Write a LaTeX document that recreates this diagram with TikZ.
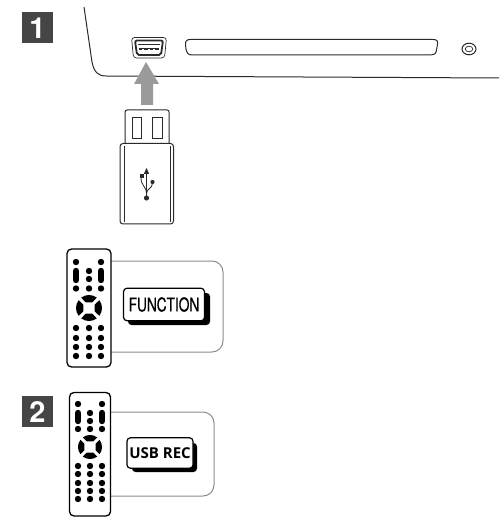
\documentclass[tikz,border=0pt]{standalone}
\usepackage{fontspec}
\setmainfont{Liberation Sans}
\newfontfamily\narrowfont[FakeStretch=0.72,FakeBold=0.5]{TeX Gyre Heros}
\newfontfamily\recfont{Open Sans}
\newfontfamily\badgefont{TeX Gyre Heros}
\definecolor{badge}{HTML}{454545}
\definecolor{ink}{HTML}{2A2A2A}
\definecolor{arrowgray}{HTML}{9A9A9A}
\definecolor{panelgray}{HTML}{8C8C8C}
\usetikzlibrary{calc}
\tikzset{
  line/.style={draw=ink,line width=1pt},
  thin line/.style={draw=ink,line width=0.7pt},
  badgebox/.style={fill=badge,draw=none,minimum width=31pt,minimum height=31pt,inner sep=0,text=white,font=\badgefont\bfseries\fontsize{29}{29}\selectfont},
  panel/.style={draw=panelgray,line width=1pt,rounded corners=11pt},
  remote/.style={draw=black,fill=white,line width=1.3pt,rounded corners=4.5pt},
  btn/.style={fill=black,draw=none},
  key/.style={draw=black,fill=white,line width=1.2pt,rounded corners=3.5pt},
  keyshadow/.style={fill=black,draw=none,rounded corners=3.5pt},
}
\newcommand{\dotbtn}[2]{\fill[btn] (#1,#2) circle (3.2);}
\newcommand{\pillbtn}[3]{\draw[black,line width=6.4pt,line cap=round] (#1,#2) -- (#1,#3);}
\newcommand{\dpad}[3]{%
  \foreach \a in {0,90,180,270}{%
    \fill[btn] ($(#1,#2)+(\a+37:#3)$) arc[start angle=\a+37,end angle=\a-37,radius=#3] -- ($(#1,#2)+(\a-30:6.5)$) -- ($(#1,#2)+(\a+30:6.5)$) -- cycle;}}
\begin{document}
\begin{tikzpicture}[x=1pt,y=-1pt]
\useasboundingbox (0,0) rectangle (499,518);
% badges
\node[badgebox] (badgeone) at (37.5,28) {1};
\node[badgebox] (badgetwo) at (37.5,411.5) {2};
% device
\draw[line] (84,7) -- (92,62) .. controls (94,72) and (98,76) .. (106,76) -- (499,78);
\draw[line] (190,39.5) -- (433,39.5) .. controls (437,39.5) and (438,41) .. (437.5,44) -- (436.5,50) .. controls (436,54) and (434,55) .. (431,55) -- (192,55) .. controls (188,55) and (187,53) .. (186,49) -- (185.5,45) .. controls (185,41) and (187,39.5) .. (190,39.5) -- cycle;
\draw[line] (469,49) ellipse (7 and 5.8);
\draw[thin line] (469,49) ellipse (3.8 and 2.8);
% usb port
\draw[draw=ink,line width=0.7pt,rounded corners=3pt] (131.5,37.5) -- (166.5,37.5) -- (164.5,58) -- (133.5,58) -- cycle;
\draw[draw=ink,line width=1.8pt,rounded corners=2pt] (135,40.5) -- (163,40.5) -- (161,55) -- (137,55) -- cycle;
\fill[ink] (138,44) rectangle (160,45);
\fill[ink] (139,48.5) rectangle (159,50.5);
\foreach \x in {142,147.5,153}{\fill[white] (\x,48.8) rectangle +(2,1.4);}
% arrow
\fill[arrowgray] (146,62) -- (159,84) -- (153,84) -- (153,105) -- (141,105) -- (141,84) -- (134,84) -- cycle;
% usb stick
\draw[line,rounded corners=2pt] (125,143) -- (125,110) -- (169,110) -- (169,143);
\draw[thin line] (132,117.5) rectangle (141.5,138);
\draw[thin line] (152.5,117.5) rectangle (162,138);
\draw[line,rounded corners=3pt] (120,224) -- (120,143.5) -- (173.5,143.5) -- (173.5,224) -- cycle;
\draw[thin line] (124,146) -- (124,222);
\draw[thin line] (170,146) -- (170,222);
% usb symbol
\draw[draw=ink,line width=0.9pt] (146.5,172) -- (146.5,197);
\fill[ink] (146.5,168) -- (149.2,174) -- (143.8,174) -- cycle;
\fill[ink] (139.5,174.5) rectangle (143.5,178.5);
\fill[ink] (152.5,182) circle (2.1);
\fill[ink] (146.5,198) circle (2.6);
\draw[draw=ink,line width=0.8pt] (141,178) .. controls (141,186) and (146.5,186) .. (146.5,194);
\draw[draw=ink,line width=0.8pt] (152.5,183) .. controls (152.5,189) and (146.5,188) .. (146.5,194);
% function group
\draw[panel] (105,261) -- (223,261) -- (223,352) -- (105,352);
\draw[remote] (67,249) rectangle (111,367);
\foreach \x in {76,101}{\dotbtn{\x}{262}\pillbtn{\x}{271}{280}\dotbtn{\x}{288.5}}
\dotbtn{89}{271}\dotbtn{89}{279}\dotbtn{89}{288.5}
\dpad{89}{308}{13}
\foreach \x in {76,89,101}{\foreach \y in {328,338,347,356}{\dotbtn{\x}{\y}}}
\fill[keyshadow] (128,293) rectangle (210,325);
\node[key,minimum width=81pt,minimum height=32.5pt,inner sep=0,font=\narrowfont\fontsize{19}{19}\selectfont] (functionkey) at (164,304.5) {FUNCTION};
% usb rec group
\draw[panel] (105,412) -- (214,412) -- (214,496) -- (105,496);
\draw[remote] (69.5,392.5) rectangle (110.5,516);
\foreach \x in {78,102}{\dotbtn{\x}{404}\pillbtn{\x}{413}{421}\dotbtn{\x}{429}}
\dotbtn{90}{413}\dotbtn{90}{421}\dotbtn{90}{429}
\dpad{90}{447}{12}
\foreach \x in {78,90,102}{\foreach \y in {466,474,483,491,499}{\dotbtn{\x}{\y}}}
\fill[keyshadow] (132,443) rectangle (197,472);
\node[key,minimum width=66pt,minimum height=30.5pt,inner sep=0,font=\recfont\bfseries\fontsize{15}{15}\selectfont] (usbreckey) at (160,453) {USB REC};
\end{tikzpicture}
\end{document}
